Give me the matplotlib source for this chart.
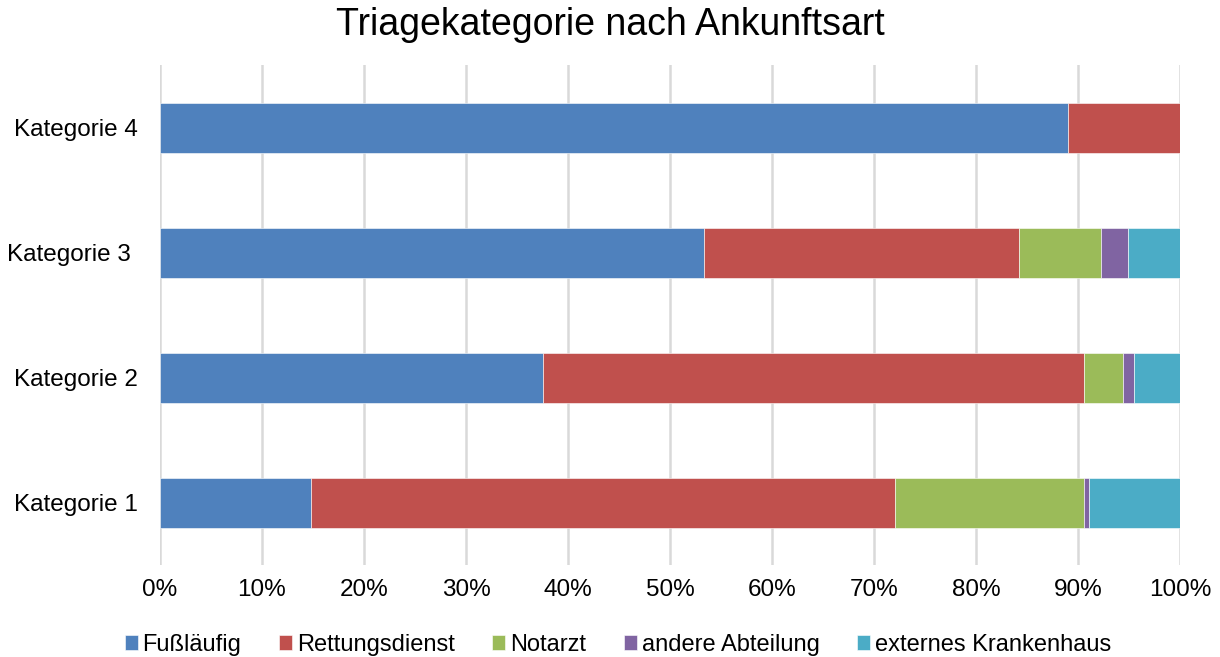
import matplotlib.pyplot as plt
import numpy as np

plt.rcParams['font.family'] = ['Liberation Sans', 'DejaVu Sans']

# -----------------------------------------------------
# DATA (percent shares per category)
# -----------------------------------------------------

categories = ["Kategorie 1", "Kategorie 2", "Kategorie 3 ", "Kategorie 4"]

fusslaeufig = [14.8, 37.6, 53.3, 89.0]
rettungsdienst = [57.3, 53.0, 30.9, 11.0]
notarzt = [18.5, 3.8, 8.1, 0.0]
andere_abteilung = [0.5, 1.1, 2.6, 0.0]
externes_kh = [8.9, 4.5, 5.1, 0.0]

series = [
    ("Fußläufig", fusslaeufig, "#4F81BD"),
    ("Rettungsdienst", rettungsdienst, "#C0504D"),
    ("Notarzt", notarzt, "#9BBB59"),
    ("andere Abteilung", andere_abteilung, "#8064A2"),
    ("externes Krankenhaus", externes_kh, "#4BACC6"),
]

# -----------------------------------------------------
# FIGURE
# -----------------------------------------------------

fig = plt.figure(figsize=(12.2, 6.57), dpi=100)
ax = fig.add_axes([0.1311, 0.14, 0.8361, 0.761])

y = np.arange(len(categories))
left = np.zeros(len(categories))
for name, vals, col in series:
    vals = np.array(vals)
    ax.barh(y, vals, left=left, height=0.4, color=col, label=name,
            edgecolor="white", linewidth=0.4, zorder=3)
    left += vals

ax.set_xlim(0, 100)
ax.set_ylim(-0.5, 3.5)
ax.set_xticks(np.arange(0, 101, 10))
ax.set_xticklabels([f"{v}%" for v in range(0, 101, 10)], fontsize=17.5)
ax.set_yticks(y)
ax.set_yticklabels(categories, fontsize=17.5)
ax.tick_params(axis="y", length=0, pad=16)
ax.tick_params(axis="x", length=0, pad=10)

ax.grid(axis="x", color="#d9d9d9", linewidth=1.8, zorder=0)
for s in ax.spines.values():
    s.set_visible(False)

fig.suptitle("Triagekategorie nach Ankunftsart", fontsize=27, y=0.99)

ax.legend(loc="upper center", bbox_to_anchor=(0.449, -0.095), ncol=5,
          frameon=False, fontsize=17, handlelength=0.55, handleheight=0.55,
          handletextpad=0.2, columnspacing=1.6)

plt.savefig("out.png", dpi=100)
